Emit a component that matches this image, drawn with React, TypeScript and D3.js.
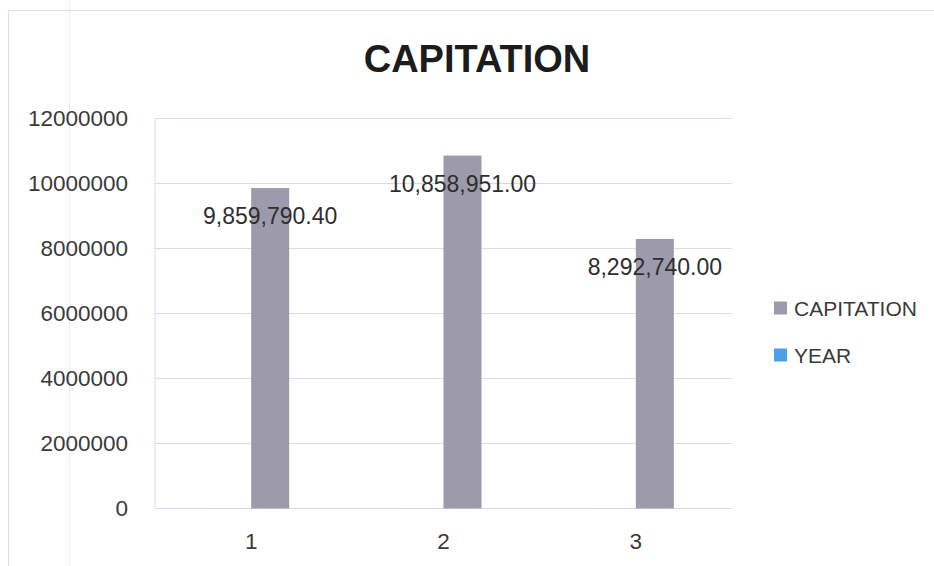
import React from "react";
import * as d3 from "d3";

const categories = ["1", "2", "3"];
const capitation = [9859790.4, 10858951.0, 8292740.0];
const years = [2014, 2015, 2016];
const seriesNames = ["YEAR", "CAPITATION"];
const yTicks = [0, 2000000, 4000000, 6000000, 8000000, 10000000, 12000000];
const valueLabels = ["9,859,790.40", "10,858,951.00", "8,292,740.00"];

const W = 934;
const H = 566;
const FONT = "'Liberation Sans', Arial, sans-serif";
const BAR_GREY = "#9d9bab";
const YEAR_BLUE = "#4f9ee8";
const GRID = "#d9d9e8";
const TEXT = "#3a3a3a";

export default function App() {
  const plotLeft = 155;
  const plotRight = 732;
  const plotTop = 118.5;
  const plotBottom = 508.5;

  const y = d3.scaleLinear().domain([0, 12000000]).range([plotBottom, plotTop]);
  const x0 = d3.scaleBand<string>().domain(categories).range([plotLeft, plotRight]).paddingInner(0).paddingOuter(0);
  const barW = 38;
  const half = x0.bandwidth() / 2;
  const x1 = d3.scaleBand<string>().domain(seriesNames).range([half - barW, half + barW]).padding(0);

  const rows = categories.map((c, i) => ({ cat: c, YEAR: years[i], CAPITATION: capitation[i], label: valueLabels[i] }));

  return (
    <div style={{ position: "absolute", left: 0, top: 0, width: W, height: H, background: "#fff" }}>
      <svg width={W} height={H} style={{ display: "block" }}>
        <rect x={0} y={0} width={W} height={H} fill="#fff" />
        {/* outer frame lines */}
        <line x1={8.5} y1={10.5} x2={W} y2={10.5} stroke="#dcdcec" strokeWidth={1} />
        <line x1={8.5} y1={10.5} x2={8.5} y2={H} stroke="#dcdcec" strokeWidth={1} />
        <line x1={69.5} y1={0} x2={69.5} y2={H} stroke="#ececf5" strokeWidth={1} />

        {/* title */}
        <text x={477} y={59} textAnchor="middle" dominantBaseline="central" fontFamily={FONT} fontWeight="bold" fontSize={38} fill="#1c1c1c">
          CAPITATION
        </text>

        {/* gridlines */}
        {yTicks.map((t) => (
          <line key={"g" + t} x1={plotLeft} x2={plotRight} y1={y(t)} y2={y(t)} stroke={GRID} strokeWidth={1} />
        ))}
        <line x1={plotLeft} x2={plotLeft} y1={plotTop} y2={plotBottom} stroke={GRID} strokeWidth={1} />

        {/* y tick labels */}
        {yTicks.map((t) => (
          <text key={"t" + t} x={128} y={y(t)} textAnchor="end" dominantBaseline="central" fontFamily={FONT} fontSize={22.5} fill={TEXT}>
            {String(t)}
          </text>
        ))}

        {/* bars */}
        {rows.map((r) => (
          <g key={r.cat} transform={`translate(${x0(r.cat)},0)`}>
            {seriesNames.map((s) => {
              const v = (r as any)[s] as number;
              return (
                <rect
                  key={s}
                  x={x1(s)}
                  y={y(v)}
                  width={x1.bandwidth()}
                  height={plotBottom - y(v)}
                  fill={s === "YEAR" ? YEAR_BLUE : BAR_GREY}
                />
              );
            })}
            <text
              x={(x1("CAPITATION") as number) + x1.bandwidth() / 2}
              y={y(r.CAPITATION) + 28}
              textAnchor="middle"
              dominantBaseline="central"
              fontFamily={FONT}
              fontSize={23}
              fill="#2e2e2e"
            >
              {r.label}
            </text>
          </g>
        ))}

        {/* x labels */}
        {categories.map((c) => (
          <text key={"x" + c} x={(x0(c) as number) + half} y={541} textAnchor="middle" dominantBaseline="central" fontFamily={FONT} fontSize={22.5} fill={TEXT}>
            {c}
          </text>
        ))}

        {/* legend */}
        {[
          { name: "CAPITATION", color: BAR_GREY, y: 308 },
          { name: "YEAR", color: YEAR_BLUE, y: 355 },
        ].map((l) => (
          <g key={l.name}>
            <rect x={774} y={l.y - 6.5} width={13} height={13} fill={l.color} />
            <text x={794} y={l.y} dominantBaseline="central" fontFamily={FONT} fontSize={21} fill={TEXT}>
              {l.name}
            </text>
          </g>
        ))}
      </svg>
    </div>
  );
}
